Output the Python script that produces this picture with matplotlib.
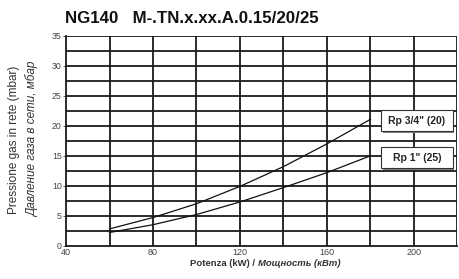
import matplotlib
matplotlib.use("Agg")
import matplotlib.pyplot as plt
from matplotlib.patches import Rectangle
import numpy as np

plt.rcParams['font.family'] = ['Liberation Sans', 'DejaVu Sans']

# data
power_kw = [60, 80, 100, 120, 140, 160, 180]
p_rp34 = [2.8, 4.7, 7.0, 9.9, 13.2, 17.0, 21.1]   # Rp 3/4" (20)
p_rp1 = [2.2, 3.5, 5.2, 7.3, 9.7, 12.2, 15.0]     # Rp 1" (25)
labels = ['Rp 3/4" (20)', 'Rp 1" (25)']
label_pos = [(201.4, 20.85), (201.4, 14.7)]
x_ticks = [40, 80, 120, 160, 200]
y_ticks = [0, 5, 10, 15, 20, 25, 30, 35]

fig = plt.figure(figsize=(4.59, 2.79), dpi=100)
ax = fig.add_axes([0.1438, 0.1194, 0.8529, 0.7516])

ax.set_xlim(40, 220)
ax.set_ylim(0, 35)

for xv in np.arange(60, 221, 20):
    ax.axvline(xv, color='#1a1a1a', lw=1.3, zorder=1)
for yv in np.arange(2.5, 35.1, 2.5):
    ax.axhline(yv, color='#1a1a1a', lw=1.3, zorder=1)

for s in ax.spines.values():
    s.set_visible(False)
for side in ('left', 'bottom'):
    ax.spines[side].set_visible(True)
    ax.spines[side].set_color('#1a1a1a')
    ax.spines[side].set_linewidth(1.3)

ax.plot(power_kw, p_rp34, color='#111111', lw=0.9, zorder=3)
ax.plot(power_kw, p_rp1, color='#111111', lw=0.9, zorder=3)

ax.set_xticks(x_ticks)
ax.set_yticks(y_ticks)
ax.tick_params(axis='x', length=0, labelsize=6.5, labelcolor='#444444', pad=2)
ax.tick_params(axis='y', length=2, width=0.6, color='#444444', labelsize=6.3,
               labelcolor='#444444', pad=1)

# label boxes with a drop shadow
bw, bh = 33.0, 3.5
sx, sy = 0.7, 0.25
for lab, (lx, ly) in zip(labels, label_pos):
    ax.add_patch(Rectangle((lx - bw / 2 + sx, ly - bh / 2 - sy), bw, bh,
                           fc='#808080', ec='none', zorder=4))
    ax.add_patch(Rectangle((lx - bw / 2, ly - bh / 2), bw, bh,
                           fc='white', ec='#333333', lw=0.8, zorder=5))
    ax.text(lx, ly, lab, ha='center', va='center', fontsize=7.5,
            fontweight='bold', color='#222222', zorder=6)

fig.text(0.142, 0.935, 'NG140   M-.TN.x.xx.A.0.15/20/25', fontsize=12.2,
         fontweight='bold', color='#111111', ha='left', va='center')

fig.text(0.030, 0.50, 'Pressione gas in rete (mbar)', rotation=90,
         fontsize=8.5, color='#333333', ha='center', va='center')
fig.text(0.072, 0.50, 'Давление газа в сети, мбар', rotation=90,
         fontsize=8.5, style='italic', color='#333333', ha='center', va='center')

fig.text(0.562, 0.057, 'Potenza (kW) / ', fontsize=6.8, fontweight='bold',
         color='#333333', ha='right', va='center')
fig.text(0.562, 0.057, 'Мощность (кВт)', fontsize=6.8, fontweight='bold',
         style='italic', color='#333333', ha='left', va='center')

fig.savefig('out.png', dpi=100)
